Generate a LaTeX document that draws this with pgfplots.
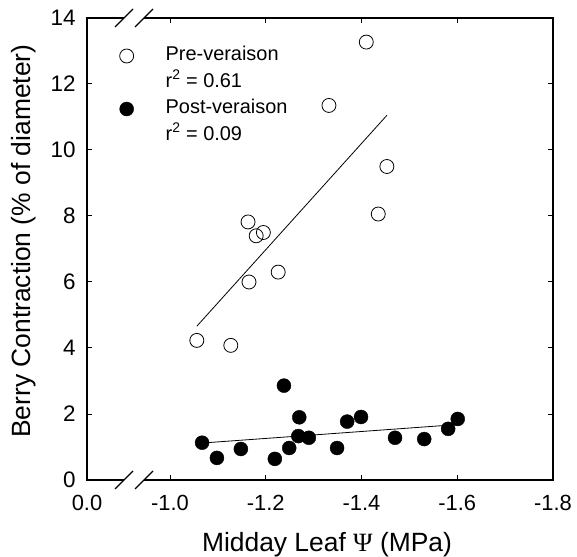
\documentclass[border=0pt]{standalone}
\usepackage{fontspec}
\setmainfont{Liberation Sans}
\newfontfamily\psifont{Liberation Serif}
\usepackage{pgfplots}
\pgfplotsset{compat=1.18}
\begin{document}
\begin{tikzpicture}
\begin{axis}[
  scale only axis, width=466bp, height=462bp,
  x dir=reverse, xmin=-1.8, xmax=-0.8266, ymin=0, ymax=14,
  xtick={-0.8266,-1.0,-1.2,-1.4,-1.6,-1.8},
  xticklabels={0.0,-1.0,-1.2,-1.4,-1.6,-1.8},
  ytick={0,2,4,6,8,10,12,14},
  yticklabels={0,2,4,6,8,10,12,14},
  tick align=inside, major tick length=5bp,
  tick style={line width=1bp, black},
  axis line style={line width=2bp},
  xticklabel style={font=\fontsize{22}{26}\selectfont, yshift=-12bp},
  yticklabel style={font=\fontsize{22.5}{26}\selectfont, xshift=-8bp},
  xlabel={Midday Leaf {\psifont Ψ} (MPa)},
  ylabel={Berry Contraction (\% of diameter)},
  xlabel style={font=\fontsize{26.5}{30}\selectfont, at={(axis description cs:0.515,-0.1407)}, anchor=center},
  ylabel style={font=\fontsize{26.5}{30}\selectfont, at={(axis description cs:-0.135,0.517)}, anchor=center},
  legend style={draw=none, fill=none, at={(axis description cs:0.0697,0.942)}, anchor=north west,
    font=\fontsize{20}{24}\selectfont, inner sep=0pt, row sep=4.5bp, column sep=30bp,
    nodes={text height=14bp, text depth=4bp, inner ysep=2bp, inner xsep=2bp}},
  legend cell align=left,
  legend image code/.code={\draw[#1] plot coordinates {(0bp,0bp)};},
]
\addplot[black, line width=0.8bp, forget plot] coordinates {(-1.056,4.66) (-1.453,11.05)};
\addplot[black, line width=0.8bp, forget plot] coordinates {(-1.067,1.12) (-1.600,1.68)};
\addplot[only marks, mark=o, mark size=7bp, mark options={line width=0.8bp, fill=white, draw=black}] coordinates {
(-1.056,4.23) (-1.127,4.08) (-1.165,6.00) (-1.163,7.82) (-1.180,7.40) (-1.195,7.50)
(-1.226,6.30) (-1.410,13.27) (-1.332,11.35) (-1.453,9.50) (-1.435,8.06)};
\addlegendentry{Pre-veraison}
\addlegendimage{empty legend}
\addlegendentry{r\textsuperscript{2} = 0.61}
\addplot[only marks, mark=*, mark size=7bp, mark options={fill=black, draw=black}] coordinates {
(-1.067,1.13) (-1.098,0.67) (-1.148,0.94) (-1.219,0.64) (-1.238,2.86) (-1.249,0.97)
(-1.270,1.90) (-1.268,1.33) (-1.290,1.28) (-1.349,0.97) (-1.370,1.77) (-1.399,1.91)
(-1.470,1.28) (-1.531,1.24) (-1.581,1.55) (-1.601,1.85)};
\addlegendentry{Post-veraison}
\addlegendimage{empty legend}
\addlegendentry{r\textsuperscript{2} = 0.09}
\end{axis}
% axis break marks
\fill[white] (37bp,-4bp) rectangle (57bp,4bp);
\fill[white] (37bp,458bp) rectangle (57bp,466bp);
\draw[line width=1.3bp] (28bp,-9bp)--(46bp,9bp) (48bp,-9bp)--(66bp,9bp);
\draw[line width=1.3bp] (28bp,453bp)--(46bp,471bp) (48bp,453bp)--(66bp,471bp);
\pgfresetboundingbox
\useasboundingbox (-87bp,-77bp) rectangle (490bp,480bp);
\end{tikzpicture}
\end{document}
